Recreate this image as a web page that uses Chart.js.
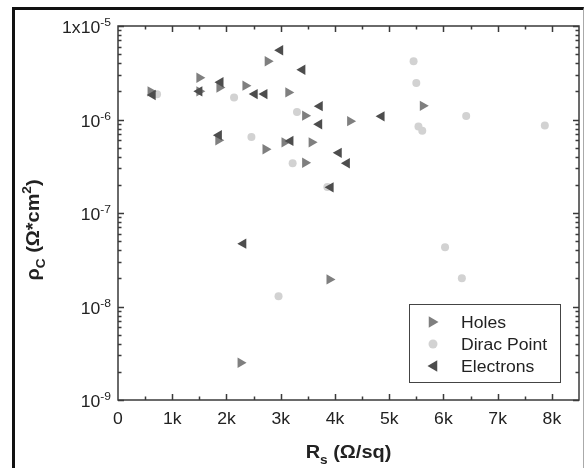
<!DOCTYPE html>
<html><head><meta charset="utf-8">
<script src="https://cdn.jsdelivr.net/npm/chart.js@4"></script>
<style>
html,body{margin:0;padding:0;background:#fff;}
#wrap{position:relative;width:585px;height:468px;overflow:hidden;background:#fff;}
#frame{position:absolute;left:12px;top:7px;width:568px;height:470px;border-top:3px solid #111;border-left:3px solid #111;border-right:1px solid #aaa;pointer-events:none;}
canvas{position:absolute;left:0;top:0;}
</style></head><body>
<div id="wrap"><canvas id="c" width="585" height="468"></canvas><div id="frame"></div></div>
<script>
// ---- data (R_s in Ohm/sq, rho_c in Ohm*cm^2) ----
const holesX = [600, 1500, 1500, 1870, 2350, 2760, 3140, 3450, 4280, 5620, 1850, 2720, 3070, 3570, 3450, 3900, 2260];
const holesY = [2.0e-6, 2.8e-6, 2.0e-6, 2.2e-6, 2.3e-6, 4.2e-6, 1.95e-6, 1.1e-6, 9.6e-7, 1.4e-6, 6.0e-7, 4.8e-7, 5.7e-7, 5.7e-7, 3.45e-7, 1.95e-8, 2.5e-9];
const diracX = [720, 2140, 3300, 2460, 3220, 5450, 5500, 5540, 5610, 6420, 7870, 6030, 6340, 2960, 3860];
const diracY = [1.86e-6, 1.72e-6, 1.2e-6, 6.5e-7, 3.4e-7, 4.2e-6, 2.45e-6, 8.4e-7, 7.6e-7, 1.09e-6, 8.6e-7, 4.3e-8, 2.0e-8, 1.29e-8, 1.9e-7];
const electronsX = [640, 1500, 1890, 2520, 2700, 2990, 3400, 3720, 3710, 4860, 1860, 3180, 4070, 4220, 3920, 2310];
const electronsY = [1.83e-6, 2.0e-6, 2.5e-6, 1.87e-6, 1.87e-6, 5.5e-6, 3.4e-6, 1.39e-6, 8.9e-7, 1.08e-6, 6.8e-7, 5.9e-7, 4.4e-7, 3.4e-7, 1.88e-7, 4.7e-8];
const seriesLabels = ['Holes', 'Dirac Point', 'Electrons'];
const xTickValues = [0, 1000, 2000, 3000, 4000, 5000, 6000, 7000, 8000];
const xTickLabels = ['0', '1k', '2k', '3k', '4k', '5k', '6k', '7k', '8k'];
const yTickValues = [1e-5, 1e-6, 1e-7, 1e-8, 1e-9];
const yTickBase = ['1x10', '10', '10', '10', '10'];
const yTickExp = ['-5', '-6', '-7', '-8', '-9'];

const FONT = '"Liberation Sans", Arial, sans-serif';
const AX = '#3a3a3a';
const colors = { holes: '#7f7f7f', dirac: '#d2d2d2', electrons: '#4d4d4d' };

function pts(xs, ys) { return xs.map((x, i) => ({ x: x, y: ys[i] })); }

function rich(ctx, segs, x, y, size, bold, align, hs) {
  const b = bold ? 'bold ' : '';
  const small = Math.round(size * 0.68);
  let widths = segs.map(s => {
    ctx.font = b + ((s.k === 'sub' || s.k === 'sup') ? small : size) + 'px ' + FONT;
    return ctx.measureText(s.t).width * hs;
  });
  const total = widths.reduce((a, c) => a + c, 0);
  let cx = align === 'center' ? x - total / 2 : (align === 'right' ? x - total : x);
  segs.forEach((s, i) => {
    const isSmall = (s.k === 'sub' || s.k === 'sup');
    ctx.font = b + (isSmall ? small : size) + 'px ' + FONT;
    let dy = 0;
    if (s.k === 'sub') dy = size * 0.3;
    if (s.k === 'sup') dy = -size * 0.42;
    ctx.save();
    ctx.translate(cx, y + dy);
    ctx.scale(hs, 1);
    ctx.textAlign = 'left';
    ctx.textBaseline = 'alphabetic';
    ctx.fillText(s.t, 0, 0);
    ctx.restore();
    cx += widths[i];
  });
}

function marker(ctx, style, rot, r, x, y, color) {
  ctx.save();
  ctx.fillStyle = color;
  ctx.beginPath();
  if (style === 'circle') {
    ctx.arc(x, y, r, 0, Math.PI * 2);
  } else {
    let rad = rot * Math.PI / 180;
    for (let k = 0; k < 3; k++) {
      const px = x + Math.sin(rad) * r, py = y - Math.cos(rad) * r;
      if (k === 0) ctx.moveTo(px, py); else ctx.lineTo(px, py);
      rad += 2 * Math.PI / 3;
    }
    ctx.closePath();
  }
  ctx.fill();
  ctx.restore();
}

const decor = {
  id: 'decor',
  afterDatasetsDraw(chart) {
    const ctx = chart.ctx, a = chart.chartArea;
    const xs = chart.scales.x, ys = chart.scales.y;
    ctx.save();
    ctx.strokeStyle = AX;
    ctx.lineWidth = 1.5;
    ctx.strokeRect(a.left, a.top, a.right - a.left, a.bottom - a.top);
    ctx.beginPath();
    for (let v = 500; v < 8500; v += 500) {
      const px = Math.round(xs.getPixelForValue(v)) + 0.5;
      const len = (v % 1000 === 0) ? 6 : 3.5;
      ctx.moveTo(px, a.bottom); ctx.lineTo(px, a.bottom - len);
      ctx.moveTo(px, a.top); ctx.lineTo(px, a.top + len);
    }
    for (let d = -9; d <= -5; d++) {
      for (let m = 1; m <= 9; m++) {
        if (d === -5 && m > 1) break;
        const v = m * Math.pow(10, d);
        const py = Math.round(ys.getPixelForValue(v)) + 0.5;
        const len = (m === 1) ? 6 : 3.5;
        ctx.moveTo(a.left, py); ctx.lineTo(a.left + len, py);
        ctx.moveTo(a.right, py); ctx.lineTo(a.right - len, py);
      }
    }
    ctx.stroke();
    ctx.fillStyle = '#222';
    xTickValues.forEach((v, i) => {
      rich(ctx, [{ t: xTickLabels[i] }], xs.getPixelForValue(v), 424, 16, false, 'center', 1.1);
    });
    yTickValues.forEach((v, i) => {
      const py = ys.getPixelForValue(v);
      rich(ctx, [{ t: yTickBase[i] }, { t: yTickExp[i], k: 'sup' }], 111, py + 7, 16, false, 'right', 1.1);
    });
    ctx.fillStyle = '#222';
    rich(ctx, [{ t: 'R' }, { t: 's', k: 'sub' }, { t: ' (Ω/sq)' }], (a.left + a.right) / 2, 458, 19, true, 'center', 1.05);
    ctx.save();
    ctx.translate(39, 230);
    ctx.rotate(-Math.PI / 2);
    rich(ctx, [{ t: 'ρ' }, { t: 'C', k: 'sub' }, { t: ' (Ω*cm' }, { t: '2', k: 'sup' }, { t: ')' }], 0, 0, 19, true, 'center', 1.05);
    ctx.restore();
    ctx.fillStyle = '#fff';
    ctx.fillRect(409.5, 304.5, 151, 78);
    ctx.strokeStyle = '#444';
    ctx.lineWidth = 1;
    ctx.strokeRect(409.5, 304.5, 151, 78);
    const rows = [322, 344, 366];
    marker(ctx, 'triangle', 90, 6.5, 432, rows[0], colors.holes);
    marker(ctx, 'circle', 0, 4.5, 433, rows[1], colors.dirac);
    marker(ctx, 'triangle', -90, 6.5, 434, rows[2], colors.electrons);
    ctx.fillStyle = '#222';
    seriesLabels.forEach((lab, i) => rich(ctx, [{ t: lab }], 461, rows[i] + 6, 16, false, 'left', 1.1));
    ctx.restore();
  }
};

new Chart(document.getElementById('c'), {
  type: 'scatter',
  data: {
    datasets: [
      { label: seriesLabels[0], data: pts(holesX, holesY), pointStyle: 'triangle', rotation: 90, pointRadius: 6,
        backgroundColor: colors.holes, borderColor: colors.holes, borderWidth: 0, order: 1 },
      { label: seriesLabels[1], data: pts(diracX, diracY), pointStyle: 'circle', pointRadius: 4,
        backgroundColor: colors.dirac, borderColor: colors.dirac, borderWidth: 0, order: 2 },
      { label: seriesLabels[2], data: pts(electronsX, electronsY), pointStyle: 'triangle', rotation: -90, pointRadius: 6,
        backgroundColor: colors.electrons, borderColor: colors.electrons, borderWidth: 0, order: 0 }
    ]
  },
  options: {
    responsive: false,
    animation: false,
    devicePixelRatio: 1,
    layout: { padding: { left: 118, top: 26, right: 6, bottom: 68 } },
    plugins: { legend: { display: false }, tooltip: { enabled: false } },
    scales: {
      x: { type: 'linear', min: 0, max: 8500, display: false },
      y: { type: 'logarithmic', min: 1e-9, max: 1e-5, display: false }
    }
  },
  plugins: [decor]
});
</script>
</body></html>
